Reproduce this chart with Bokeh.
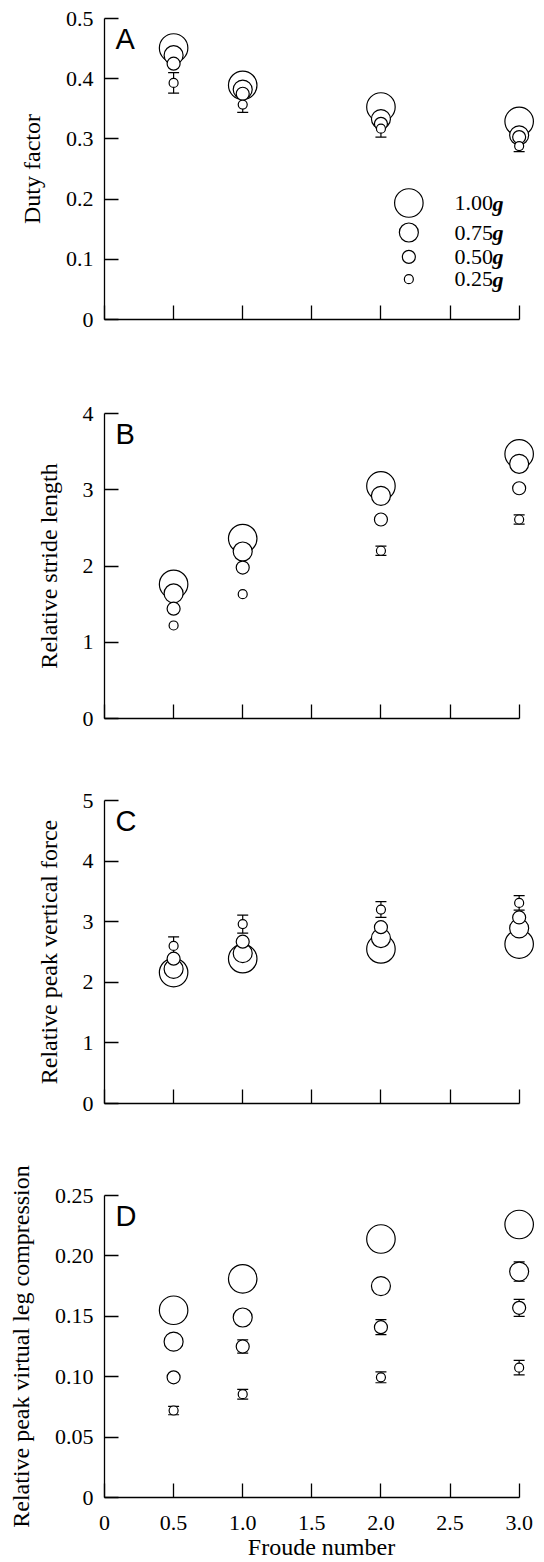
from bokeh.plotting import figure
from bokeh.layouts import column
from bokeh.models import Range1d, FixedTicker, ColumnDataSource, Whisker, TeeHead, Label
from bokeh.embed import file_html
from bokeh.resources import INLINE
from bokeh.core.properties import value

# ---------------- data ----------------
froude = [0.5, 1.0, 2.0, 3.0]
gravity_labels = ["1.00", "0.75", "0.50", "0.25"]

duty_100 = [0.451, 0.389, 0.353, 0.329]
duty_075 = [0.439, 0.382, 0.333, 0.306]
duty_050 = [0.425, 0.375, 0.325, 0.303]
duty_025 = [0.393, 0.357, 0.317, 0.288]
duty_err_025 = [0.017, 0.013, 0.014, 0.009]

stride_100 = [1.76, 2.36, 3.05, 3.47]
stride_075 = [1.64, 2.19, 2.92, 3.34]
stride_050 = [1.44, 1.98, 2.61, 3.02]
stride_025 = [1.22, 1.63, 2.20, 2.61]
stride_err_025 = [0, 0, 0.06, 0.06]

force_100 = [2.16, 2.39, 2.55, 2.63]
force_075 = [2.22, 2.48, 2.73, 2.89]
force_050 = [2.39, 2.67, 2.91, 3.07]
force_025 = [2.60, 2.96, 3.20, 3.31]
force_err_025 = [0.15, 0.15, 0.13, 0.12]

comp_100 = [0.155, 0.181, 0.214, 0.226]
comp_075 = [0.129, 0.149, 0.175, 0.187]
comp_050 = [0.0995, 0.125, 0.141, 0.157]
comp_025 = [0.072, 0.0855, 0.0995, 0.1075]
comp_err_075 = [0, 0, 0, 0.008]
comp_err_050 = [0, 0.0055, 0.0062, 0.007]
comp_err_025 = [0.0035, 0.004, 0.0045, 0.006]

x_ticks = [0, 0.5, 1.0, 1.5, 2.0, 2.5, 3.0]
x_tick_labels = ["0", "0.5", "1.0", "1.5", "2.0", "2.5", "3.0"]

duty_ticks = [0, 0.1, 0.2, 0.3, 0.4, 0.5]
duty_tick_labels = ["0", "0.1", "0.2", "0.3", "0.4", "0.5"]
stride_ticks = [0, 1, 2, 3, 4]
stride_tick_labels = ["0", "1", "2", "3", "4"]
force_ticks = [0, 1, 2, 3, 4, 5]
force_tick_labels = ["0", "1", "2", "3", "4", "5"]
comp_ticks = [0, 0.05, 0.10, 0.15, 0.20, 0.25]
comp_tick_labels = ["0", "0.05", "0.10", "0.15", "0.20", "0.25"]

# ---------------- styles ----------------
SERIF = "Liberation Serif"
SANS_FONT = "Liberation Sans"
marker_sizes = [28.5, 19, 13, 9]
LW = 1.2


def make_panel(height, top, bottom, yticks, ylabels, ylabel, letter,
               series, errors, show_x_labels, legend=False):
    p = figure(width=544, height=height,
               x_range=Range1d(0, 3.14), y_range=Range1d(yticks[0], yticks[-1]),
               output_backend="svg", toolbar_location=None,
               min_border_left=104, min_border_right=6,
               min_border_top=top, min_border_bottom=bottom)
    p.outline_line_color = None
    p.xgrid.visible = False
    p.ygrid.visible = False
    p.background_fill_color = "white"
    p.border_fill_color = "white"

    xa = p.xaxis[0]
    xa.ticker = FixedTicker(ticks=x_ticks)
    xa.bounds = (0, 3.0)
    if show_x_labels:
        xa.major_label_overrides = {t: l for t, l in zip(x_ticks, x_tick_labels)}
        xa.axis_label = "Froude number"
    else:
        xa.major_label_overrides = {t: "" for t in x_ticks}
    ya = p.yaxis[0]
    ya.ticker = FixedTicker(ticks=yticks)
    ya.major_label_overrides = {t: l for t, l in zip(yticks, ylabels)}
    ya.axis_label = ylabel

    for ax in (xa, ya):
        ax.major_tick_in = 14
        ax.major_tick_out = 0
        ax.minor_tick_line_color = None
        ax.axis_line_color = "black"
        ax.axis_line_width = 1.3
        ax.major_tick_line_color = "black"
        ax.major_tick_line_width = 1.3
        ax.major_label_text_font = SERIF
        ax.major_label_text_font_size = "22px"
        ax.major_label_text_color = "black"
        ax.axis_label_text_font = SERIF
        ax.axis_label_text_font_size = "24px"
        ax.axis_label_text_font_style = "normal"
        ax.axis_label_text_color = "black"
    ya.major_label_standoff = 11
    ya.axis_label_standoff = 18
    xa.major_label_standoff = 18
    xa.axis_label_standoff = 1

    # error bars (behind the circles)
    for vals, err in errors:
        xs = [x for x, e in zip(froude, err) if e > 0]
        lo = [v - e for v, e in zip(vals, err) if e > 0]
        hi = [v + e for v, e in zip(vals, err) if e > 0]
        src = ColumnDataSource(dict(x=xs, lower=lo, upper=hi))
        w = Whisker(source=src, base="x", lower="lower", upper="upper",
                    line_color="black", line_width=LW, level="underlay",
                    upper_head=TeeHead(size=11, line_color="black", line_width=LW),
                    lower_head=TeeHead(size=11, line_color="black", line_width=LW))
        p.add_layout(w)

    # circles: largest first, smaller drawn on top
    for vals, s in zip(series, marker_sizes):
        p.scatter(froude, vals, marker="circle", size=s, fill_color="white",
                  line_color="black", line_width=LW)

    p.add_layout(Label(x=0, y=yticks[-1], x_offset=11, y_offset=-20, text=letter,
                       text_font=SANS_FONT, text_font_size="29px", text_color="black",
                       text_baseline="alphabetic", text_align="left"))

    if legend:
        leg_x = 2.202
        txt_x = 2.533
        leg_y = [0.1935, 0.1445, 0.104, 0.067]
        for yy, s in zip(leg_y, marker_sizes):
            p.scatter([leg_x], [yy], marker="circle", size=s, fill_color="white",
                      line_color="black", line_width=LW)
        p.text(x=[txt_x] * 4, y=leg_y, text=gravity_labels,
               text_font=value(SERIF), text_font_size="22px", text_color="black",
               text_baseline="middle", text_align="left")
        p.text(x=[txt_x] * 4, y=leg_y, text=["g"] * 4, x_offset=38,
               text_font=value(SERIF), text_font_size="22px", text_color="black",
               text_font_style="bold italic",
               text_baseline="middle", text_align="left")
    return p


pA = make_panel(366, 18, 47, duty_ticks, duty_tick_labels, "Duty factor", "A",
                [duty_100, duty_075, duty_050, duty_025],
                [(duty_025, duty_err_025)], False, legend=True)
pB = make_panel(393, 47, 41, stride_ticks, stride_tick_labels, "Relative stride length", "B",
                [stride_100, stride_075, stride_050, stride_025],
                [(stride_025, stride_err_025)], False)
pC = make_panel(390, 41, 46, force_ticks, force_tick_labels, "Relative peak vertical force", "C",
                [force_100, force_075, force_050, force_025],
                [(force_025, force_err_025)], False)
pD = make_panel(413, 46, 63, comp_ticks, comp_tick_labels,
                "Relative peak virtual leg compression", "D",
                [comp_100, comp_075, comp_050, comp_025],
                [(comp_075, comp_err_075), (comp_050, comp_err_050), (comp_025, comp_err_025)],
                True)

layout = column(pA, pB, pC, pD, spacing=0)
open("out.html", "w").write(file_html(layout, INLINE))
